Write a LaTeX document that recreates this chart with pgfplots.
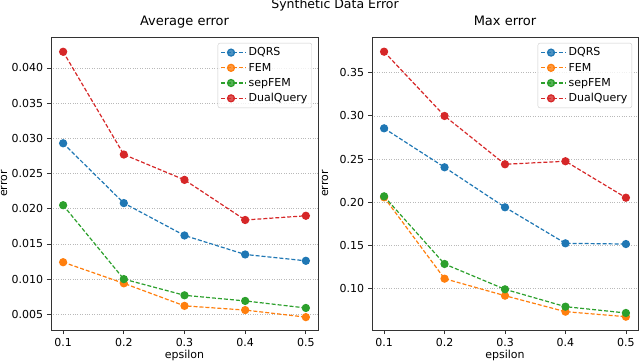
\documentclass[border=0pt]{standalone}
\usepackage{fontspec}
\setmainfont{DejaVu Sans}
\usepackage{pgfplots}
\pgfplotsset{compat=1.18}

\definecolor{tabblue}{HTML}{1F77B4}
\definecolor{taborange}{HTML}{FF7F0E}
\definecolor{tabgreen}{HTML}{2CA02C}
\definecolor{tabred}{HTML}{D62728}

\pgfplotsset{
  errpanel/.style={
    scale only axis,
    height=293pt,
    xmin=0.08, xmax=0.52,
    xtick={0.1,0.2,0.3,0.4,0.5},
    xticklabels={0.1,0.2,0.3,0.4,0.5},
    tick pos=left,
    tick align=outside,
    major tick length=4pt,
    every tick/.style={black!80, line width=0.8pt},
    axis line style={black!80, line width=0.9pt},
    ymajorgrids,
    major grid style={gray!55, dotted, line width=0.6pt},
    /pgf/number format/assume math mode=true,
    /pgf/number format/fixed,
    /pgf/number format/fixed zerofill,
    xlabel={epsilon}, ylabel={error},
    every axis x label/.style={at={(axis description cs:0.5,0)}, anchor=base, yshift=-28pt},
    every axis y label/.style={at={(axis description cs:0,0.5)}, xshift=-47pt, rotate=90, anchor=center},
    title style={at={(axis description cs:0.5,1)}, anchor=base, yshift=5pt, font=\fontsize{13}{15}\selectfont},
    legend style={at={(1,1)}, anchor=north east, xshift=-6pt, yshift=-6pt,
      draw=gray!40, rounded corners=2pt, fill=white, fill opacity=0.8, text opacity=1,
      row sep=1.5pt, inner sep=2.5pt},
    legend cell align=left,
    legend image code/.code={
      \path (0pt,0pt) -- (25pt,0pt);
      \draw[mark repeat=2, mark phase=2] plot coordinates {(0pt,0pt) (10pt,0pt) (20pt,0pt)};},
    every axis plot/.append style={dash pattern=on 4pt off 2pt, line width=1.2pt,
      mark=*, mark size=3.5pt, mark options={solid}},
  }
}

\begin{document}
\fontsize{11}{13}\selectfont
\begin{tikzpicture}
\node[anchor=base, font=\fontsize{12.5}{15}\selectfont] at (335pt,-8.7pt) {Synthetic Data Error};

\begin{axis}[errpanel, at={(51pt,-330pt)}, anchor=south west, width=267pt,
  title={Average error},
  ymin=0.00277, ymax=0.0444,
  ytick={0.005,0.010,0.015,0.020,0.025,0.030,0.035,0.040},
  yticklabel style={/pgf/number format/precision=3},
  scaled y ticks=false]
\addplot[color=tabblue] coordinates {(0.1,0.0293) (0.2,0.0208) (0.3,0.0162) (0.4,0.0135) (0.5,0.0126)};
\addplot[color=taborange] coordinates {(0.1,0.0124) (0.2,0.0094) (0.3,0.0062) (0.4,0.0056) (0.5,0.0046)};
\addplot[color=tabgreen] coordinates {(0.1,0.0205) (0.2,0.0100) (0.3,0.0077) (0.4,0.0069) (0.5,0.0059)};
\addplot[color=tabred] coordinates {(0.1,0.0423) (0.2,0.0277) (0.3,0.0241) (0.4,0.0184) (0.5,0.0190)};
\legend{DQRS,FEM,sepFEM,DualQuery}
\end{axis}

\begin{axis}[errpanel, at={(372pt,-330pt)}, anchor=south west, width=266pt,
  title={Max error},
  ymin=0.0522, ymax=0.3913,
  ytick={0.10,0.15,0.20,0.25,0.30,0.35},
  yticklabel style={/pgf/number format/precision=2}]
\addplot[color=tabblue] coordinates {(0.1,0.2856) (0.2,0.2405) (0.3,0.1942) (0.4,0.1525) (0.5,0.1517)};
\addplot[color=taborange] coordinates {(0.1,0.2058) (0.2,0.1116) (0.3,0.0919) (0.4,0.0734) (0.5,0.0676)};
\addplot[color=tabgreen] coordinates {(0.1,0.2069) (0.2,0.1286) (0.3,0.0993) (0.4,0.0792) (0.5,0.0719)};
\addplot[color=tabred] coordinates {(0.1,0.3743) (0.2,0.2999) (0.3,0.2440) (0.4,0.2475) (0.5,0.2053)};
\legend{DQRS,FEM,sepFEM,DualQuery}
\end{axis}

\pgfresetboundingbox
\useasboundingbox (0pt,0pt) rectangle (640pt,-363pt);
\end{tikzpicture}
\end{document}
